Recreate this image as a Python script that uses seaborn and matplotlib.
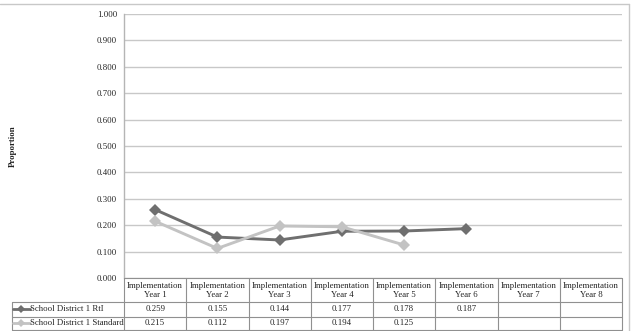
import numpy as np
import pandas as pd
import matplotlib
matplotlib.use("Agg")
import matplotlib.pyplot as plt
import seaborn as sns
from matplotlib.lines import Line2D

categories = ["Implementation\nYear 1", "Implementation\nYear 2", "Implementation\nYear 3",
              "Implementation\nYear 4", "Implementation\nYear 5", "Implementation\nYear 6",
              "Implementation\nYear 7", "Implementation\nYear 8"]
series_names = ["School District 1 RtI", "School District 1 Standard"]
rti = [0.259, 0.155, 0.144, 0.177, 0.178, 0.187, None, None]
standard = [0.215, 0.112, 0.197, 0.194, 0.125, None, None, None]
yticks = [0.0, 0.1, 0.2, 0.3, 0.4, 0.5, 0.6, 0.7, 0.8, 0.9, 1.0]
colors = {"School District 1 RtI": "#6f6f6f", "School District 1 Standard": "#c3c3c3"}

sns.set_theme(style="white")
plt.rcParams["font.family"] = ["Liberation Serif", "DejaVu Serif"]

W, H = 633, 331
fig = plt.figure(figsize=(W / 100, H / 100), dpi=100)
fig.patch.set_facecolor("white")

def fx(x):
    return x / W

def fy(y):
    return 1 - y / H

L, R, T, B = 124, 622, 14, 278
ax = fig.add_axes([fx(L), fy(B), fx(R) - fx(L), fy(T) - fy(B)])

rows = []
for name, vals in zip(series_names, [rti, standard]):
    for i, v in enumerate(vals):
        if v is not None:
            rows.append({"pos": i, "value": v, "series": name})
df = pd.DataFrame(rows)

sns.lineplot(data=df, x="pos", y="value", hue="series", style="series",
             palette=colors, markers={n: "D" for n in series_names}, dashes=False,
             markersize=6, linewidth=2.1, markeredgewidth=0, legend=False, ax=ax,
             hue_order=series_names, style_order=series_names, zorder=3)

ax.set_xlim(-0.5, len(categories) - 0.5)
ax.set_ylim(0, 1)
ax.set_yticks(yticks)
ax.set_yticklabels([f"{v:.3f}" for v in yticks], fontsize=6.3, color="#222222")
ax.set_xticks([])
ax.set_xlabel("")
ax.set_ylabel("")
ax.tick_params(axis="y", length=0, pad=5)
ax.yaxis.grid(True, color="#c8c8c8", linewidth=1)
ax.set_axisbelow(True)
for s in ["top", "right", "bottom"]:
    ax.spines[s].set_visible(False)
ax.spines["left"].set_color("#b5b5b5")
ax.spines["left"].set_linewidth(1)

fig.text(fx(13), fy(146), "Proportion", rotation=90, fontsize=6.3, fontweight="bold",
         ha="center", va="center", color="#222222")

def hline(x0, x1, y, c="#909090", lw=0.8):
    fig.add_artist(Line2D([fx(x0), fx(x1)], [fy(y), fy(y)], transform=fig.transFigure,
                          color=c, lw=lw))

def vline(x, y0, y1, c="#909090", lw=0.8):
    fig.add_artist(Line2D([fx(x), fx(x)], [fy(y0), fy(y1)], transform=fig.transFigure,
                          color=c, lw=lw))

# data table
n = len(categories)
cw = (R - L) / n
x_edges = [L + i * cw for i in range(n + 1)]
y_head, y_r1, y_r2, y_end = 278, 302, 316.5, 330
LX = 12
hline(L, R, y_head)
hline(LX, R, y_r1)
hline(LX, R, y_r2)
hline(LX, R, y_end)
for xe in x_edges:
    vline(xe, y_head, y_end)
vline(LX, y_r1, y_end)

for i, cat in enumerate(categories):
    xc = L + (i + 0.5) * cw
    fig.text(fx(xc), fy((y_head + y_r1) / 2 + 0.5), cat, ha="center", va="center",
             fontsize=6.3, linespacing=1.05, color="#222222")
for vals, (ya, yb) in zip([rti, standard], [(y_r1, y_r2), (y_r2, y_end)]):
    for i, v in enumerate(vals):
        if v is not None:
            xc = L + (i + 0.5) * cw
            fig.text(fx(xc), fy((ya + yb) / 2), f"{v:.3f}", ha="center", va="center",
                     fontsize=6.3, color="#222222")

for name, (ya, yb) in zip(series_names, [(y_r1, y_r2), (y_r2, y_end)]):
    yc = (ya + yb) / 2
    fig.add_artist(Line2D([fx(13), fx(30)], [fy(yc), fy(yc)], transform=fig.transFigure,
                          color=colors[name], lw=2))
    fig.add_artist(Line2D([fx(21)], [fy(yc)], transform=fig.transFigure, marker="D",
                          markersize=4, color=colors[name], markeredgewidth=0))
    fig.text(fx(30), fy(yc), name, ha="left", va="center", fontsize=6.3, color="#222222")

# outer border
hline(0, 629, 4, c="#c8c8c8", lw=1)
vline(629, 4, 331, c="#c8c8c8", lw=1)

fig.savefig("out.png", dpi=100)
